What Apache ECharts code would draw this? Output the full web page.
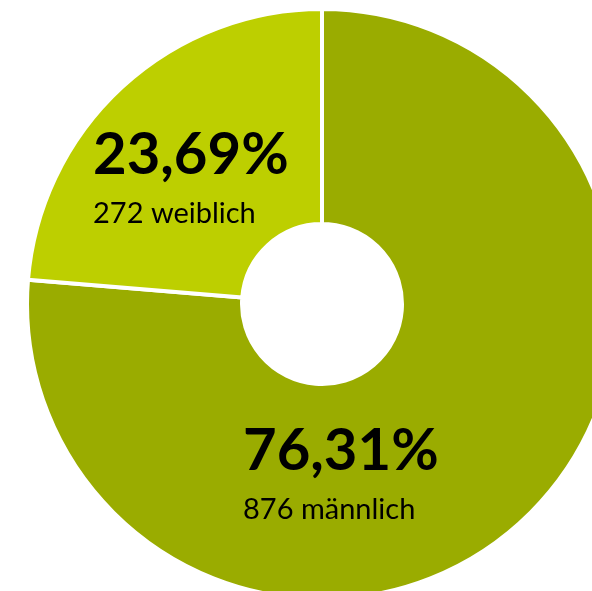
<!DOCTYPE html>
<html>
<head>
<meta charset="utf-8">
<script src="https://cdn.jsdelivr.net/npm/echarts@6/dist/echarts.min.js"></script>
<style>
  html, body { margin: 0; padding: 0; background: #fff; }
  #chart { width: 592px; height: 591px; }
</style>
</head>
<body>
<div id="chart"></div>
<script>
// Geschlechterverteilung
var names = ['männlich', 'weiblich'];
var counts = [876, 272];
var percents = ['76,31%', '23,69%'];
var colors = ['#9aac00', '#bdcf00'];

var chart = echarts.init(document.getElementById('chart'));

var data = names.map(function (n, i) {
    return { name: n, value: counts[i], itemStyle: { color: colors[i] } };
});

// label anchor (left, top) for each slice
var labelPos = [[243, 420], [93, 124]];

var option = {
    backgroundColor: '#fff',
    animation: false,
    series: [
        {
            type: 'pie',
            center: [322, 304],
            radius: [80, 295],
            startAngle: 90,
            clockwise: true,
            data: data,
            itemStyle: {
                borderColor: '#fff',
                borderWidth: 4
            },
            label: {
                show: true,
                position: 'inside',
                align: 'left',
                formatter: function (p) {
                    return '{big|' + percents[p.dataIndex] + '}\n{small|' + counts[p.dataIndex] + ' ' + p.name + '}';
                },
                rich: {
                    big: {
                        fontFamily: 'Lato',
                        fontWeight: 'bold',
                        fontSize: 58,
                        color: '#000',
                        lineHeight: 62
                    },
                    small: {
                        fontFamily: 'Lato',
                        fontSize: 29,
                        color: '#000',
                        lineHeight: 56,
                        padding: [0, 0, 0, 0]
                    }
                }
            },
            labelLayout: function (params) {
                var p = labelPos[params.dataIndex];
                return { x: p[0], y: p[1], align: 'left', verticalAlign: 'top' };
            },
            labelLine: { show: false }
        }
    ]
};

chart.setOption(option);
</script>
</body>
</html>
